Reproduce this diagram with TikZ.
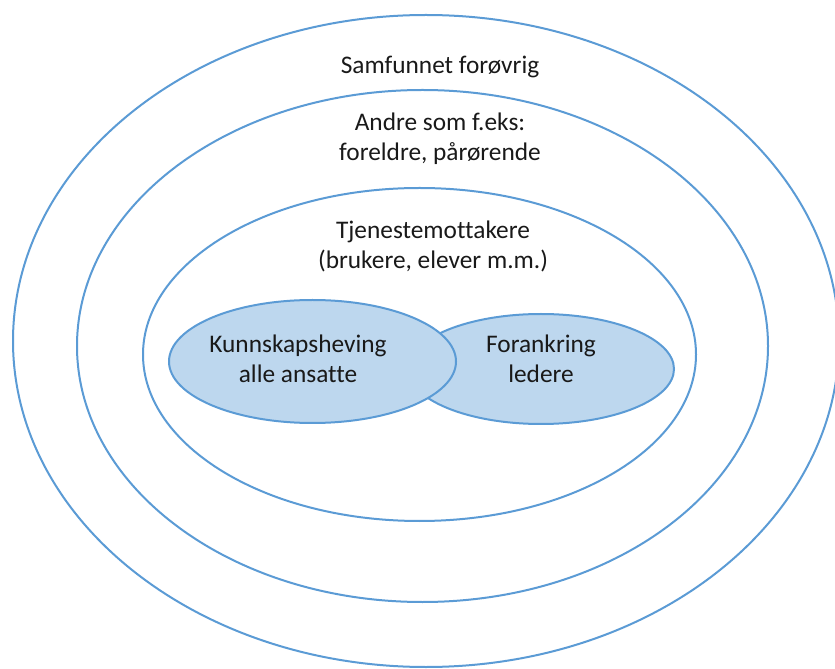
\documentclass[tikz,border=0pt]{standalone}
\usepackage{fontspec}
\setmainfont{Carlito}[Ligatures=NoCommon]
\usepackage{tikz}
\definecolor{ringblue}{RGB}{91,155,213}
\definecolor{blobfill}{RGB}{189,215,238}
\tikzset{
	ring/.style={draw=ringblue, line width=1.5pt},
	blob/.style={draw=ringblue, line width=1.5pt, fill=blobfill},
	lbl/.style={align=center, font=\fontsize{19}{22.5}\selectfont, text=black!90}
}

\begin{document}
\begin{tikzpicture}[x=0.75pt, y=0.75pt]
			%%%%% START %%%%%
			
			\useasboundingbox (0, 0) rectangle (835, 668);
			\clip (0, 0) rectangle (835, 668);
			
			\draw[ring] (426, 327) ellipse (413 and 326);
			\draw[ring] (422.5, 322) ellipse (345.5 and 256);
			\draw[ring] (419.5, 313.5) ellipse (276.5 and 166.5);
			
			\draw[blob] (541, 299) ellipse (133 and 55);
			\draw[blob] (312.5, 306.5) ellipse (143.5 and 61.5);
			
			\node[lbl] (samfunn) at (440, 601) {Samfunnet forøvrig};
			\node[lbl] (andre) at (440, 529) {Andre som f.eks:\\foreldre, pårørende};
			\node[lbl] (tjeneste) at (433, 422) {Tjenestemottakere\\(brukere, elever m.m.)};
			\node[lbl] (kunnskap) at (298, 309) {Kunnskapsheving\\alle ansatte};
			\node[lbl] (forankring) at (541, 309) {Forankring\\ledere};
			
			%%%%% END %%%%%
		\end{tikzpicture}
\end{document}
